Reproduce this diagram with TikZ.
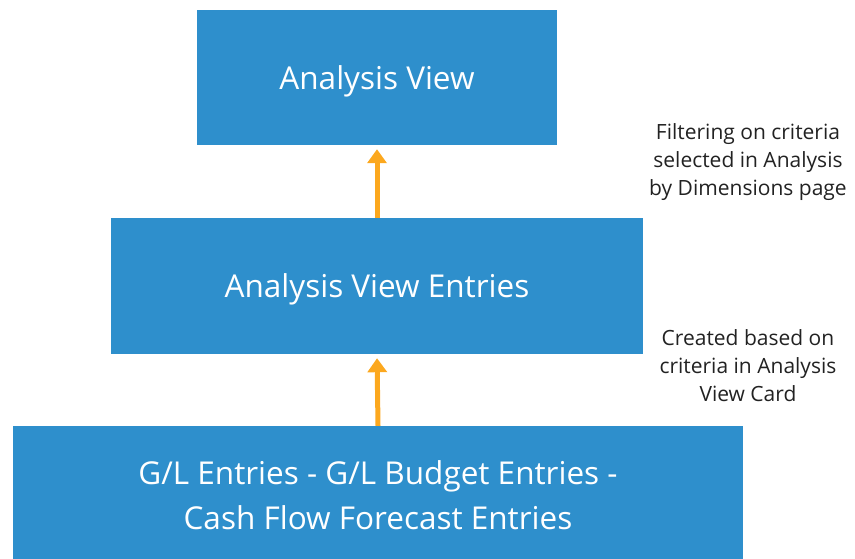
\documentclass[tikz,border=0pt]{standalone}
\usepackage{fontspec}
\setmainfont{Open Sans}
\usetikzlibrary{arrows.meta}
\definecolor{boxblue}{RGB}{46,143,204}
\definecolor{arroworange}{RGB}{252,168,30}
\definecolor{labelgray}{RGB}{34,34,34}
\tikzset{
  bluebox/.style={fill=boxblue, draw=none, text=white, align=center,
    font=\fontsize{31.5}{45}\selectfont, inner sep=0pt},
  uparrow/.style={draw=arroworange, line width=5pt,
    -{Triangle[width=19pt,length=14pt]}, arroworange},
  sidelabel/.style={align=center, text=labelgray,
    font=\fontsize{21}{28}\selectfont, inner sep=0pt}
}
\begin{document}
\begin{tikzpicture}[x=1pt,y=-1pt]
\useasboundingbox (0,0) rectangle (855,558);
\node[bluebox, text depth=0pt, minimum width=360pt, minimum height=135pt] (av) at (377,77.5) {Analysis View};
\node[bluebox, text depth=0pt, minimum width=532pt, minimum height=136pt] (ave) at (377,286) {Analysis View Entries};
\node[bluebox, minimum width=730pt, minimum height=139pt] (gl) at (378,495.5) {G/L Entries - G/L Budget Entries -\\Cash Flow Forecast Entries};
\draw[uparrow, shorten >=4pt] (ave.north) -- (av.south);
\draw[uparrow, shorten >=4pt] (gl.north) -- (ave.south);
\node[sidelabel] (l1) at (748,162) {Filtering on criteria\\selected in Analysis\\by Dimensions page};
\node[sidelabel] (l2) at (748,366) {Created based on\\criteria in Analysis\\View Card};
\end{tikzpicture}
\end{document}
